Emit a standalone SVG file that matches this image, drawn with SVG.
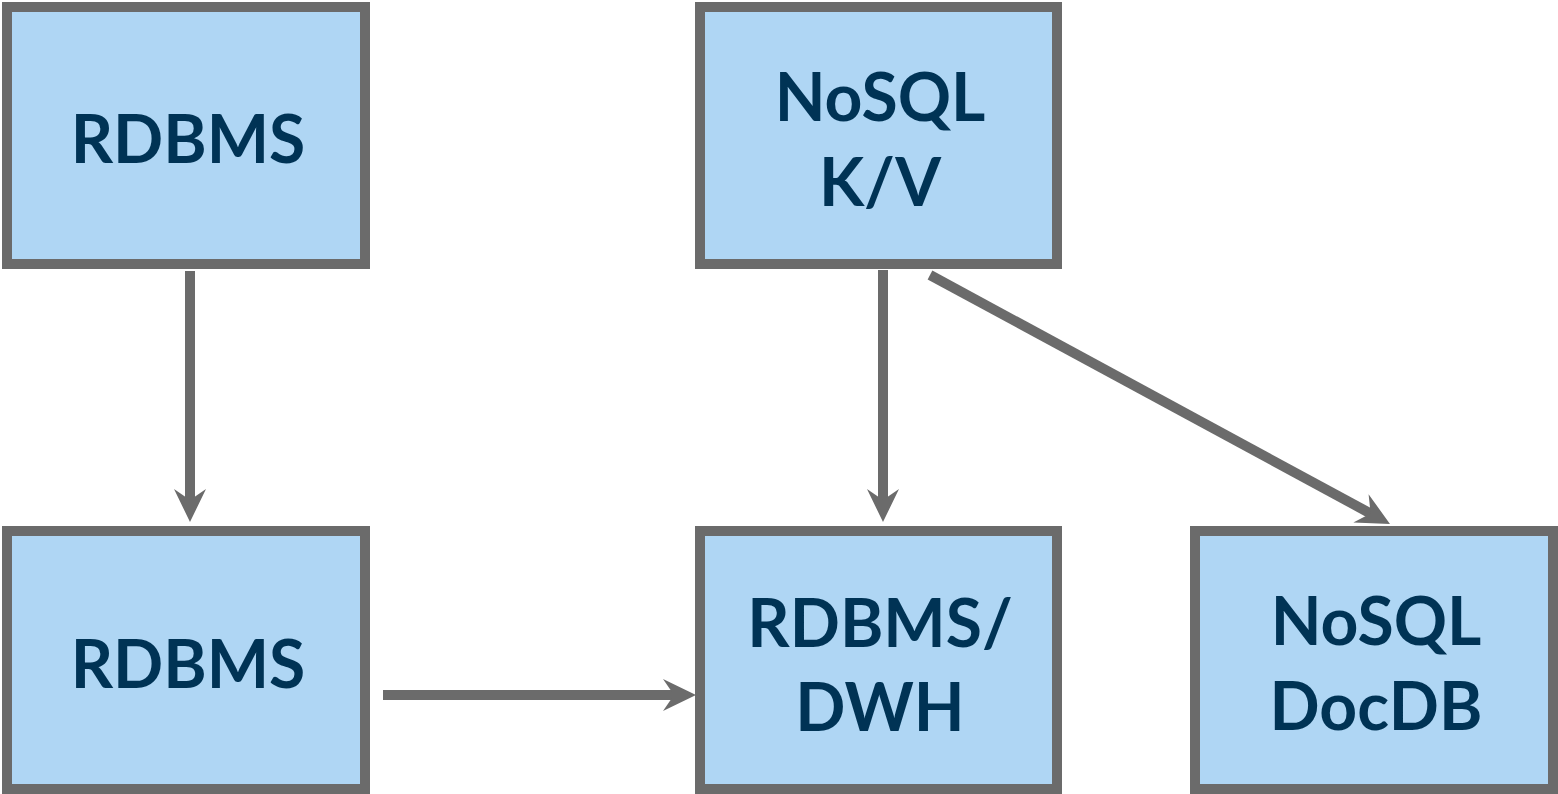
<svg xmlns="http://www.w3.org/2000/svg" width="1558" height="794" viewBox="0 0 1558 794">
<style>
.box{fill:#AFD6F4;stroke:#6B6B6B;stroke-width:10}
.lbl{font-family:Lato,"Noto Sans",sans-serif;font-weight:700;font-size:66px;fill:#003355;text-anchor:middle}
.edge{stroke:#6B6B6B;stroke-width:10;fill:none;marker-end:url(#ah)}
</style>
<defs>
<marker id="ah" markerUnits="userSpaceOnUse" markerWidth="40" markerHeight="40" viewBox="-34 -20 40 40" refX="-20" refY="0" orient="auto">
<path d="M0,0 L-33,-16 L-22,0 L-33,16 Z" fill="#6B6B6B"/>
</marker>
</defs>
<rect width="1558" height="794" fill="#FFFFFF"/>
<g id="connectors">
<line class="edge" x1="190" y1="271" x2="190" y2="502"/>
<line class="edge" x1="883" y1="270" x2="883" y2="502"/>
<line class="edge" x1="930" y1="275" x2="1372.4" y2="514.5"/>
<line class="edge" x1="383" y1="695" x2="676" y2="695"/>
</g>
<g id="node-rdbms-top">
<rect class="box" x="7" y="7" width="358" height="257"/>
<text class="lbl" x="188" y="163">RDBMS</text>
</g>
<g id="node-nosql-kv">
<rect class="box" x="700" y="7" width="357" height="257"/>
<text class="lbl" x="880" y="121">NoSQL</text>
<text class="lbl" x="880" y="206">K/V</text>
</g>
<g id="node-rdbms-bottom">
<rect class="box" x="7" y="531" width="358" height="258"/>
<text class="lbl" x="188" y="688">RDBMS</text>
</g>
<g id="node-rdbms-dwh">
<rect class="box" x="700" y="531" width="357" height="258"/>
<text class="lbl" x="880" y="647">RDBMS/</text>
<text class="lbl" x="880" y="731">DWH</text>
</g>
<g id="node-nosql-docdb">
<rect class="box" x="1195" y="531" width="358" height="258"/>
<text class="lbl" x="1376" y="645">NoSQL</text>
<text class="lbl" x="1376" y="730">DocDB</text>
</g>
</svg>
